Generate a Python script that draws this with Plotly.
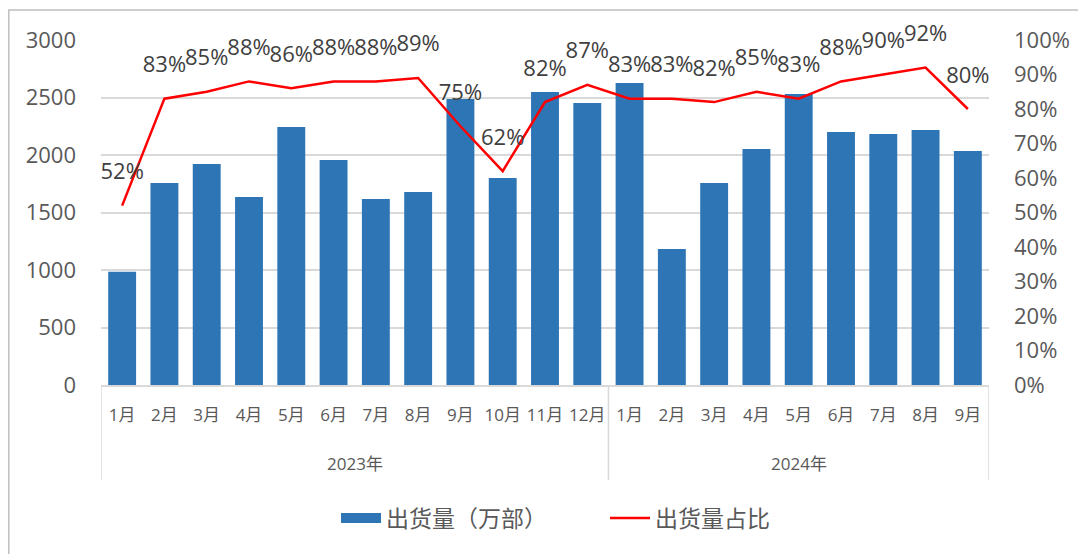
import plotly.graph_objects as go

years = ["2023年"] * 12 + ["2024年"] * 9
months = ["1月", "2月", "3月", "4月", "5月", "6月", "7月", "8月", "9月", "10月", "11月", "12月",
          "1月", "2月", "3月", "4月", "5月", "6月", "7月", "8月", "9月"]
shipments = [985, 1757, 1922, 1635, 2243, 1957, 1617, 1678, 2487, 1800, 2548, 2452,
             2626, 1183, 1757, 2052, 2530, 2200, 2183, 2217, 2035]
share = [52, 83, 85, 88, 86, 88, 88, 89, 75, 62, 82, 87,
         83, 83, 82, 85, 83, 88, 90, 92, 80]

FONT = "Open Sans, Noto Sans CJK SC, sans-serif"
GRAY = "#595959"
GRID = "#d9d9d9"
BLUE = "#2E75B6"

keys = [f"{y}{m}" for y, m in zip(years, months)]
ratio = [v / 100 for v in share]
n = len(keys)

fig = go.Figure()
fig.add_trace(go.Bar(
    x=keys, y=shipments, name="出货量（万部）", showlegend=False,
    marker=dict(color=BLUE, line=dict(width=0)),
))
fig.add_trace(go.Scatter(
    x=keys, y=ratio, name="出货量占比", showlegend=False,
    yaxis="y2", mode="lines",
    line=dict(color="#FF0000", width=2.5),
))
# data labels (invisible markers give the label offset above the line)
fig.add_trace(go.Scatter(
    x=keys, y=ratio, yaxis="y2", mode="markers+text", showlegend=False,
    marker=dict(size=32, color="rgba(0,0,0,0)"),
    text=[f"{v}%" for v in share], textposition="top center",
    textfont=dict(size=22, color="#404040", family=FONT),
    cliponaxis=False, hoverinfo="skip",
))
# legend entries
fig.add_trace(go.Scatter(x=[None], y=[None], mode="lines", name="出货量（万部）",
                         line=dict(color=BLUE, width=14)))
fig.add_trace(go.Scatter(x=[None], y=[None], mode="lines", name="出货量占比",
                         line=dict(color="#FF0000", width=2.5)))

# the page adds an 8px body margin, so the figure is 8px smaller than the window
W, H = 1078, 546
L, R, T, B = 93, 97, 32, 169
pw = W - L - R
ph = H - T - B

# year groups: dividers and centred labels
groups = []
start = 0
for i in range(1, n + 1):
    if i == n or years[i] != years[start]:
        groups.append((years[start], start, i - 1))
        start = i

shapes = [dict(type="rect", xref="paper", yref="paper",
               x0=(0.8 - L) / pw, x1=(1080 - L) / pw,
               y0=(H - B - 560) / ph, y1=(H - B - 2) / ph,
               line=dict(color="#bfbfbf", width=1.5), fillcolor="rgba(0,0,0,0)", layer="below")]
annotations = []
bounds = [groups[0][1] - 0.5] + [g[2] + 0.5 for g in groups]
for b in bounds:
    shapes.append(dict(type="line", xref="x", yref="paper", x0=b, x1=b, y0=0, y1=-95 / ph,
                       line=dict(color=GRID, width=1.5)))
for name, s, e in groups:
    annotations.append(dict(x=(s + e) / 2, xref="x", y=-78 / ph, yref="paper",
                            text=name, showarrow=False, yanchor="middle",
                            font=dict(size=17, color=GRAY, family=FONT)))

fig.update_layout(
    width=W, height=H,
    margin=dict(l=L, r=R, t=T, b=B, autoexpand=False),
    paper_bgcolor="white", plot_bgcolor="white",
    font=dict(family=FONT, color=GRAY, size=18),
    bargap=0.34,
    showlegend=True,
    legend=dict(orientation="h", x=(328 - L) / pw, xanchor="left", y=-133 / ph,
                yanchor="middle", entrywidth=214, entrywidthmode="pixels",
                font=dict(size=23, color=GRAY, family=FONT), itemwidth=40),
    xaxis=dict(type="category", range=[-0.5, n - 0.5], showline=True, linecolor=GRID,
               linewidth=1.5, tickangle=0, automargin=False,
               tickvals=keys, ticktext=months, ticks="", ticklabelstandoff=14,
               tickfont=dict(size=17, color=GRAY, family=FONT)),
    yaxis=dict(range=[0, 3000], dtick=500, showgrid=True, gridcolor=GRID, gridwidth=1.5,
               zeroline=False, tickfont=dict(size=22, color=GRAY, family=FONT),
               ticks="", ticklabelstandoff=24, automargin=False),
    yaxis2=dict(range=[0, 1], dtick=0.1, tickformat=".0%", overlaying="y", side="right",
                showgrid=False, zeroline=False, tickfont=dict(size=22, color=GRAY, family=FONT),
                ticklabelstandoff=24, automargin=False),
    shapes=shapes,
    annotations=annotations,
)

fig.write_html("out.html")
